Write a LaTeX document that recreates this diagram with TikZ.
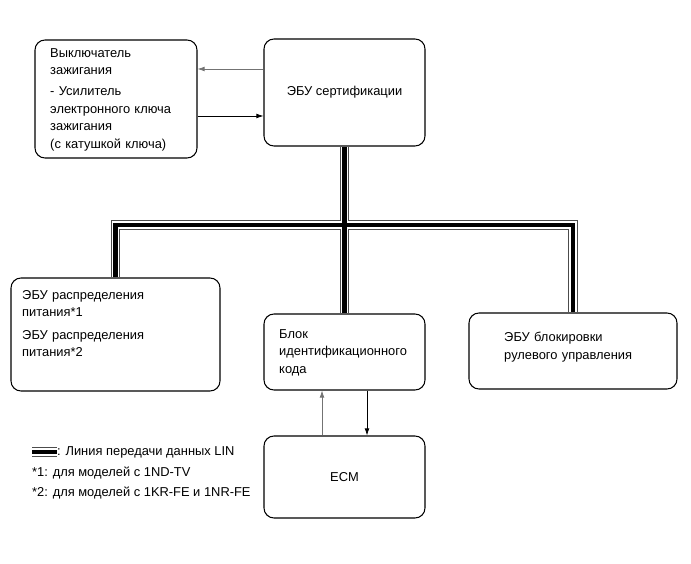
\documentclass[tikz,border=0pt]{standalone}
\usepackage{fontspec}
\setmainfont{Liberation Sans}
\usetikzlibrary{arrows.meta}

\begin{document}
\begin{tikzpicture}[x=0.03cm, y=-0.03cm,
  ecu/.style={draw, line width=0.9pt, rounded corners=0.3cm, inner sep=0pt},
  txt/.style={anchor=north west, inner sep=0pt, text width=5.5cm, align=left},
  sig/.style={line width=0.6pt, -{Latex[length=6pt,width=4pt]}}]

\useasboundingbox (0,0) rectangle (691,564);
\fontsize{11}{15}\selectfont

% the control units
\node[ecu, minimum width=4.86cm, minimum height=3.54cm] (ign) at (116,99) {};
\node[ecu, minimum width=4.83cm, minimum height=3.21cm] (cert) at (344.5,92.5) {ЭБУ сертификации};
\node[ecu, minimum width=6.27cm, minimum height=3.39cm] (pwr) at (115.5,334.5) {};
\node[ecu, minimum width=4.83cm, minimum height=2.28cm] (idc) at (344.5,352) {};
\node[ecu, minimum width=6.24cm, minimum height=2.28cm] (steer) at (573,351) {};
\node[ecu, minimum width=4.83cm, minimum height=2.46cm] (ecm) at (344.5,477) {ECM};

% texts inside the boxes
\node[txt] (igntxt) at (50,48) {Выключатель\\зажигания\\[3pt]- Усилитель\\электронного ключа\\зажигания\\(с катушкой ключа)};
\node[txt] (pwrtxt) at (22,290) {ЭБУ распределения\\питания*1\\[4pt]ЭБУ распределения\\питания*2};
\node[txt] (idctxt) at (279,329) {Блок\\идентификационного\\кода};
\node[txt] (steertxt) at (504,332) {ЭБУ блокировки\\рулевого управления};

% signal lines
\draw[sig, black!55] (cert.west |- 0,69) -- (ign.east |- 0,69);
\draw[sig] (ign.east |- 0,116) -- (cert.west |- 0,116);
\draw[sig, black!55] (ecm.north -| 322,0) -- (idc.south -| 322,0);
\draw[sig] (idc.south -| 367,0) -- (ecm.north -| 367,0);

% the LIN bus, drawn layer by layer
\coordinate (legA) at (32,452);
\coordinate (legB) at (57,452);
\foreach \w/\c in {8.5pt/black!70, 6.8pt/white, 4pt/black}
{
  \draw[line width=\w, \c] (cert.south) -- (cert.south |- 0,225) -- (idc.north);
  \draw[line width=\w, \c] (pwr.north) -- (pwr.north |- 0,225) -- (steer.north |- 0,225) -- (steer.north);
  \draw[line width=\w, \c] (legA) -- (legB);
}

% legend
\node[anchor=west, inner sep=0pt] (leg0) at (legB) {: Линия передачи данных LIN};
\node[anchor=west, inner sep=0pt] (leg1) at (32,473) {*1: для моделей с 1ND-TV};
\node[anchor=west, inner sep=0pt] (leg2) at (32,493) {*2: для моделей с 1KR-FE и 1NR-FE};

\end{tikzpicture}
\end{document}
